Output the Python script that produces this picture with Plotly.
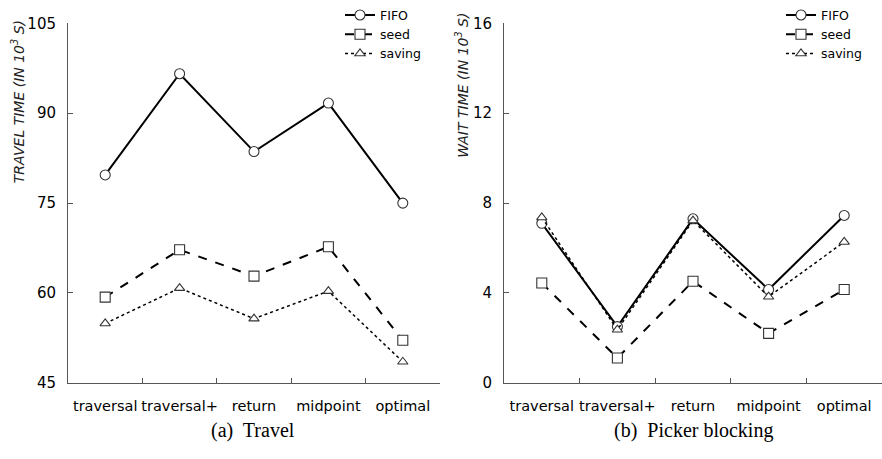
import plotly.graph_objects as go

categories = ["traversal", "traversal+", "return", "midpoint", "optimal"]

travel_fifo = [79.7, 96.6, 83.6, 91.7, 75.0]
travel_seed = [59.3, 67.2, 62.8, 67.7, 52.1]
travel_saving = [54.9, 60.8, 55.7, 60.3, 48.5]

wait_fifo = [7.10, 2.50, 7.30, 4.15, 7.45]
wait_seed = [4.44, 1.10, 4.52, 2.20, 4.15]
wait_saving = [7.36, 2.36, 7.22, 3.83, 6.27]

travel_ticks = [45, 60, 75, 90, 105]
wait_ticks = [0, 4, 8, 12, 16]

W, H = 882, 459

def px_x(p):
    return p / W

def px_y(p):
    return 1 - p / H

series_style = {
    "FIFO": dict(line=dict(color="black", width=2, dash="solid"),
                 marker=dict(symbol="circle", size=10, color="white",
                             line=dict(width=1.1, color="#333333"))),
    "seed": dict(line=dict(color="black", width=2, dash="dash"),
                 marker=dict(symbol="square", size=10, color="white",
                             line=dict(width=1.1, color="#333333"))),
    "saving": dict(line=dict(color="black", width=1.5, dash="dot"),
                   marker=dict(symbol="triangle-up", size=9, color="white",
                               line=dict(width=1.1, color="#333333"))),
}

fig = go.Figure()

for name, vals in [("FIFO", travel_fifo), ("seed", travel_seed), ("saving", travel_saving)]:
    st = series_style[name]
    fig.add_trace(go.Scatter(x=categories, y=vals, name=name, mode="lines+markers",
                             line=st["line"], marker=st["marker"],
                             xaxis="x", yaxis="y", legend="legend"))

for name, vals in [("FIFO", wait_fifo), ("seed", wait_seed), ("saving", wait_saving)]:
    st = series_style[name]
    fig.add_trace(go.Scatter(x=categories, y=vals, name=name, mode="lines+markers",
                             line=st["line"], marker=st["marker"],
                             xaxis="x2", yaxis="y2", legend="legend2"))

font_main = "DejaVu Sans, Verdana, sans-serif"

xcommon = dict(type="category", tickson="boundaries", ticks="inside", ticklen=5,
               tickcolor="#555555", showline=True, linecolor="#555555", linewidth=1,
               showgrid=False, zeroline=False, range=[-0.5, 4.5], tickangle=0,
               tickfont=dict(family=font_main, size=14.5, color="black"),
               ticklabelstandoff=10)
ycommon = dict(ticks="inside", ticklen=5, tickcolor="#555555", showline=True,
               linecolor="#555555", linewidth=1, showgrid=False, zeroline=False,
               tickfont=dict(family=font_main, size=15, color="black"),
               ticklabelstandoff=8)

ydom = [px_y(389), px_y(15)]

fig.update_layout(
    width=W, height=H,
    margin=dict(l=0, r=0, t=0, b=0),
    paper_bgcolor="white", plot_bgcolor="white",
    xaxis=dict(domain=[px_x(68), px_x(440)], anchor="y", **xcommon),
    yaxis=dict(domain=ydom, anchor="x", range=[45, 105], tickvals=travel_ticks, **ycommon),
    xaxis2=dict(domain=[px_x(504), 1.0], anchor="y2", **xcommon),
    yaxis2=dict(domain=ydom, anchor="x2", range=[0, 16], tickvals=wait_ticks, **ycommon),
    legend=dict(x=px_x(340), y=px_y(-9), xanchor="left", yanchor="top",
                font=dict(family=font_main, size=12.5, color="black"),
                bgcolor="rgba(0,0,0,0)", itemwidth=30, tracegroupgap=0),
    legend2=dict(x=px_x(781), y=px_y(-9), xanchor="left", yanchor="top",
                 font=dict(family=font_main, size=12.5, color="black"),
                 bgcolor="rgba(0,0,0,0)", itemwidth=30, tracegroupgap=0),
    annotations=[
        dict(text="<i>TRAVEL TIME (IN 10<sup>3</sup> S)</i>", textangle=-90,
             x=px_x(18), y=px_y(97), xref="paper", yref="paper",
             xanchor="center", yanchor="middle", showarrow=False,
             font=dict(family=font_main, size=14, color="#222222", weight=300)),
        dict(text="<i>WAIT TIME (IN 10<sup>3</sup> S)</i>", textangle=-90,
             x=px_x(462), y=px_y(80), xref="paper", yref="paper",
             xanchor="center", yanchor="middle", showarrow=False,
             font=dict(family=font_main, size=14, color="#222222", weight=300)),
        dict(text="(a)  Travel", x=px_x(253), y=px_y(439), xref="paper", yref="paper",
             xanchor="center", yanchor="middle", showarrow=False,
             font=dict(family="Liberation Serif, serif", size=20, color="black")),
        dict(text="(b)  Picker blocking", x=px_x(693), y=px_y(439), xref="paper", yref="paper",
             xanchor="center", yanchor="middle", showarrow=False,
             font=dict(family="Liberation Serif, serif", size=20, color="black")),
    ],
)

fig.write_html("out.html")
